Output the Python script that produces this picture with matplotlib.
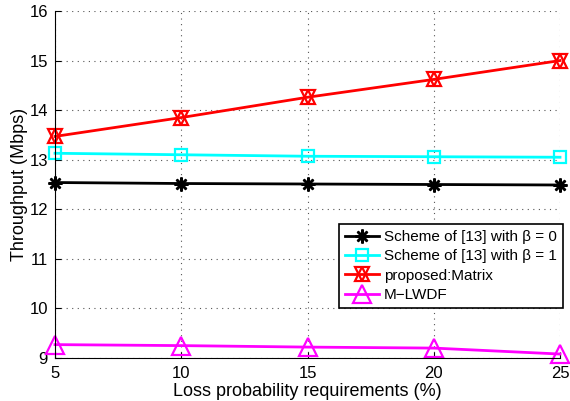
import matplotlib
matplotlib.use("Agg")
import matplotlib.pyplot as plt
from matplotlib.lines import Line2D

plt.rcParams['font.family'] = ['Liberation Sans', 'DejaVu Sans']

x = [5, 10, 15, 20, 25]
beta0 = [12.54, 12.52, 12.51, 12.50, 12.49]
beta1 = [13.13, 13.10, 13.07, 13.06, 13.05]
matrix = [13.47, 13.85, 14.26, 14.62, 15.00]
mlwdf = [9.27, 9.25, 9.22, 9.20, 9.08]
labels = ['Scheme of [13] with β = 0', 'Scheme of [13] with β = 1',
          'proposed:Matrix', 'M\u2212LWDF']

fig = plt.figure(figsize=(5.70, 4.01), dpi=100)
ax = fig.add_axes([55/570, 1-358/401, 505/570, 347/401])

star = dict(marker=(8, 2, 0), ms=10, mew=1.8)
sq = dict(marker='s', ms=9, mfc='none', mew=1.6)
tri_up = dict(marker='^', ms=9.5, mfc='none', mew=1.6)
tri_dn = dict(marker='v', ms=9.5, mfc='none', mew=1.6)
big_tri = dict(marker='^', ms=13, mfc='none', mew=1.6)

ax.plot(x, beta0, color='black', lw=2, clip_on=False, **star)
ax.plot(x, beta1, color='cyan', lw=2, clip_on=False, **sq)
ax.plot(x, matrix, color='red', lw=2, clip_on=False, **tri_up)
ax.plot(x, matrix, color='red', lw=0, clip_on=False, **tri_dn)
ax.plot(x, mlwdf, color='magenta', lw=2, clip_on=False, **big_tri)

ax.set_xlim(5, 25)
ax.set_ylim(9, 16)
ax.set_xticks([5, 10, 15, 20, 25])
ax.set_yticks([9, 10, 11, 12, 13, 14, 15, 16])
ax.grid(True, linestyle=(0, (1, 4)), color='#555555', lw=0.8)
ax.spines['top'].set_visible(False)
ax.spines['right'].set_visible(False)
ax.tick_params(direction='in', labelsize=12, length=4)
ax.tick_params(axis='x', pad=6)
ax.tick_params(axis='y', pad=5)
ax.set_xlabel('Loss probability requirements (%)', fontsize=13, labelpad=1)
ax.set_ylabel('Throughput (Mbps)', fontsize=13, labelpad=1)

handles = [
    Line2D([], [], color='black', lw=2, **star),
    Line2D([], [], color='cyan', lw=2, **sq),
    (Line2D([], [], color='red', lw=2, **tri_up),
     Line2D([], [], color='red', lw=0, **tri_dn)),
    Line2D([], [], color='magenta', lw=2, **big_tri),
]
leg = ax.legend(handles, labels, loc='lower right', bbox_to_anchor=(1.006, 0.144),
                fontsize=11, frameon=True, fancybox=False, edgecolor='black',
                handlelength=2.2, borderpad=0.4, labelspacing=0.35, handletextpad=0.35,
                borderaxespad=0, framealpha=1)
leg.get_frame().set_linewidth(1.2)

fig.savefig('out.png', dpi=100)
